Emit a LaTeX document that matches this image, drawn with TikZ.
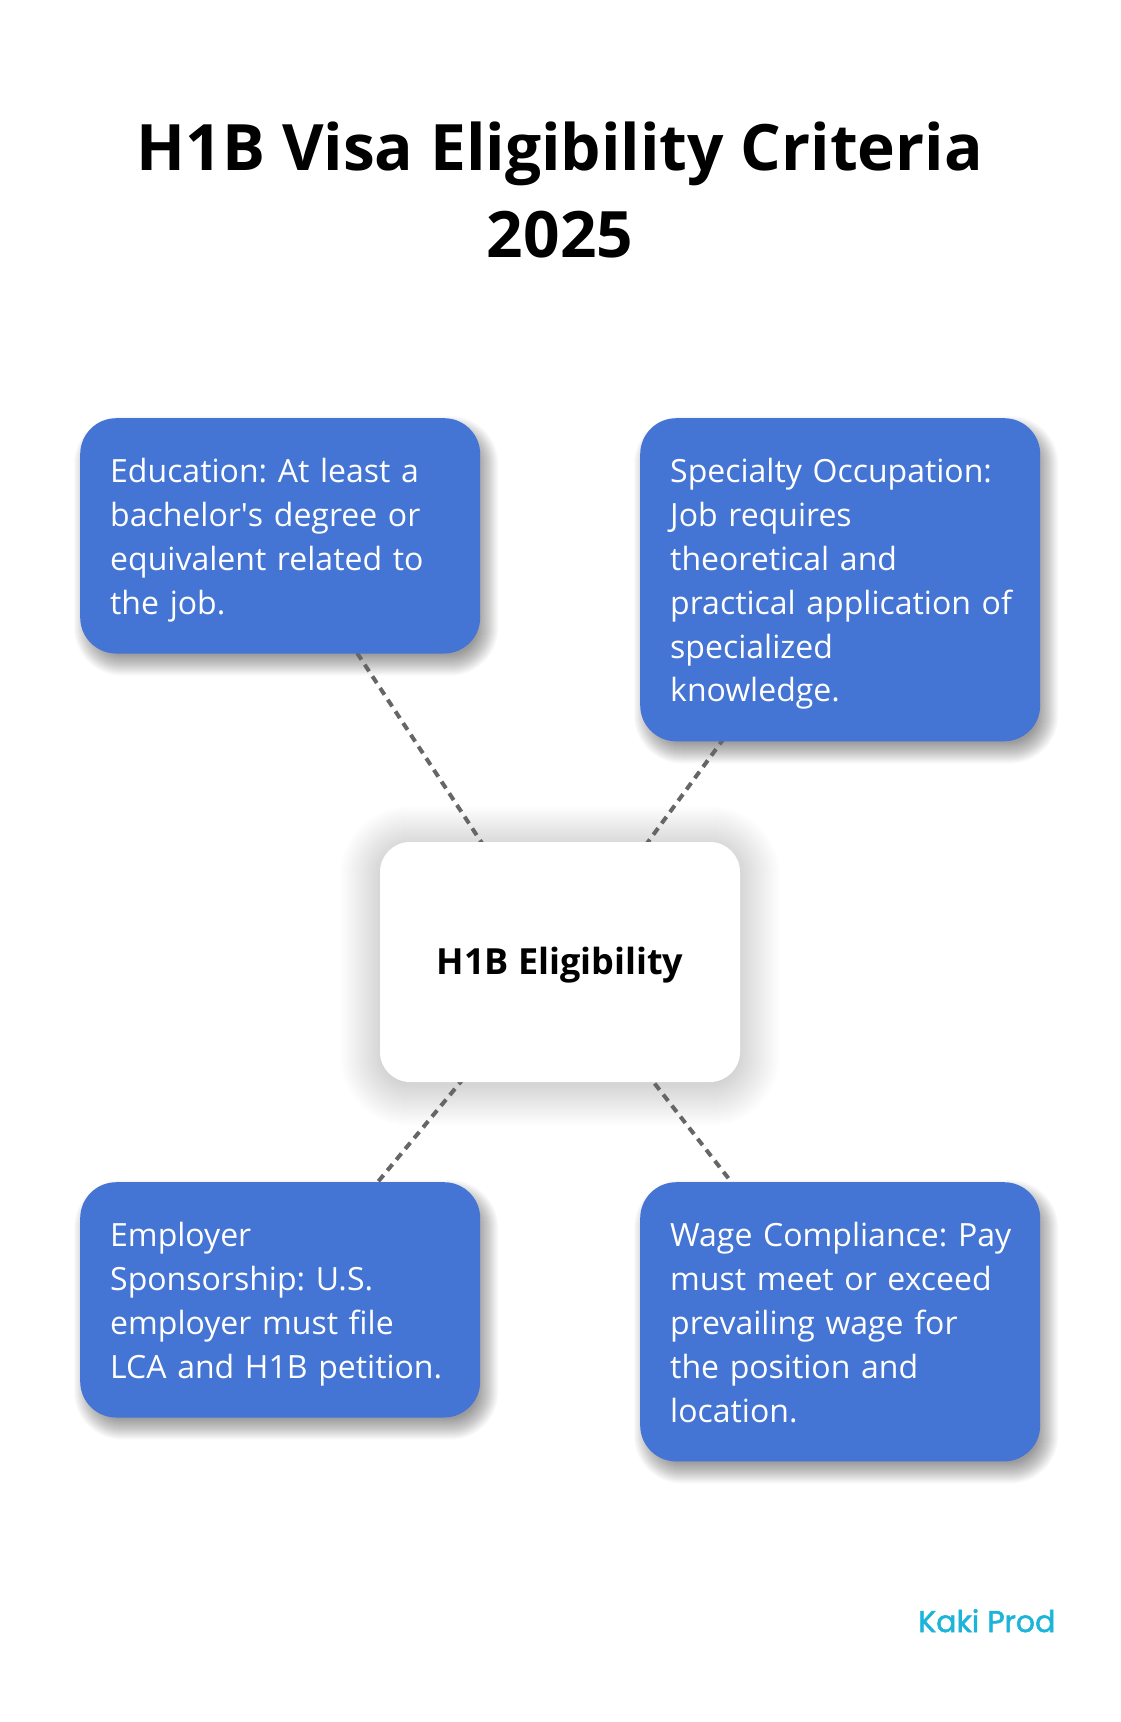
\documentclass[tikz,border=0pt]{standalone}
\usepackage{fontspec}
\setmainfont{Open Sans}
\newfontfamily\logofont[FakeBold=1.8]{Poppins}
\usetikzlibrary{calc,backgrounds}
\definecolor{boxblue}{HTML}{4474D4}
\definecolor{linegray}{HTML}{666666}
\definecolor{logocyan}{HTML}{1CB5D9}
\newcommand{\ls}[1]{\rule[-9.4pt]{0pt}{43.6pt}\mbox{#1}}
% soft shadow: node, dx, dy, radius, layers, offset, alpha
\newcommand{\softshadow}[7]{%
  \foreach \k in {1,...,#5}{%
    \pgfmathsetmacro\ee{\k-#6}%
    \pgfmathsetmacro\rr{#4+\ee}%
    \pgfmathsetmacro\xa{#2-\ee}\pgfmathsetmacro\ya{#3-\ee}%
    \pgfmathsetmacro\xb{#2+\ee}\pgfmathsetmacro\yb{#3+\ee}%
    \fill[black, fill opacity=#7, rounded corners=\rr pt]
      ($(#1.north west)+(\xa,\ya)$) rectangle ($(#1.south east)+(\xb,\yb)$);
  }%
}
\tikzset{
  infobox/.style={rectangle, rounded corners=36pt, fill=boxblue, text=white,
    inner sep=30pt, text width=340pt, align=left, anchor=north west,
    font=\fontsize{32pt}{43.9pt}\selectfont\frenchspacing},
  hubbox/.style={rectangle, rounded corners=30pt, fill=white, minimum width=360pt,
    minimum height=240pt, inner sep=0pt, text height=25.5pt, text depth=0pt,
    font=\fontsize{36pt}{43pt}\selectfont\bfseries},
  link/.style={draw=linegray, line width=4pt, dash pattern=on 8pt off 6pt}
}
\begin{document}
\begin{tikzpicture}[x=1pt,y=-1pt]
\useasboundingbox (0,0) rectangle (1120,1722);

\node[anchor=base, align=center, font=\fontsize{64pt}{87pt}\selectfont\bfseries] (title) at (560,257)
  {H1B Visa Eligibility Criteria\\2025};

\node[infobox] (edu) at (80,418) {\ls{Education: At least a}\\\ls{bachelor\textquotesingle s degree or}\\\ls{equivalent related to}\\\ls{the job.}};
\node[infobox] (spec) at (640,418) {\ls{Specialty Occupation:}\\\ls{Job requires}\\\ls{theoretical and}\\\ls{practical application of}\\\ls{specialized}\\\ls{knowledge.}};
\node[infobox] (emp) at (80,1182) {\ls{Employer}\\\ls{Sponsorship: U.S.}\\\ls{employer must file}\\\ls{LCA and H1B petition.}};
\node[infobox] (wage) at (640,1182) {\ls{Wage Compliance: Pay}\\\ls{must meet or exceed}\\\ls{prevailing wage for}\\\ls{the position and}\\\ls{location.}};

\node[hubbox] (hub) at (560,962) {H1B Eligibility};

\begin{scope}[on background layer]
\fill[white] (0,0) rectangle (1120,1722);
\softshadow{edu}{6}{10}{36}{22}{10}{0.019}
\softshadow{spec}{6}{10}{36}{22}{10}{0.019}
\softshadow{emp}{6}{10}{36}{22}{10}{0.019}
\softshadow{wage}{6}{10}{36}{22}{10}{0.019}
\softshadow{hub}{0}{4}{30}{44}{4}{0.0025}
\draw[link] (edu.center) -- (hub.center);
\draw[link] (spec.center) -- (hub.center);
\draw[link] (emp.center) -- (hub.center);
\draw[link] (wage.center) -- (hub.center);
\end{scope}

\node[anchor=base west, text=logocyan, font=\logofont\fontsize{30pt}{36pt}\selectfont, inner sep=0pt] (logo) at (918,1632) {Kaki Prod};
\end{tikzpicture}
\end{document}
